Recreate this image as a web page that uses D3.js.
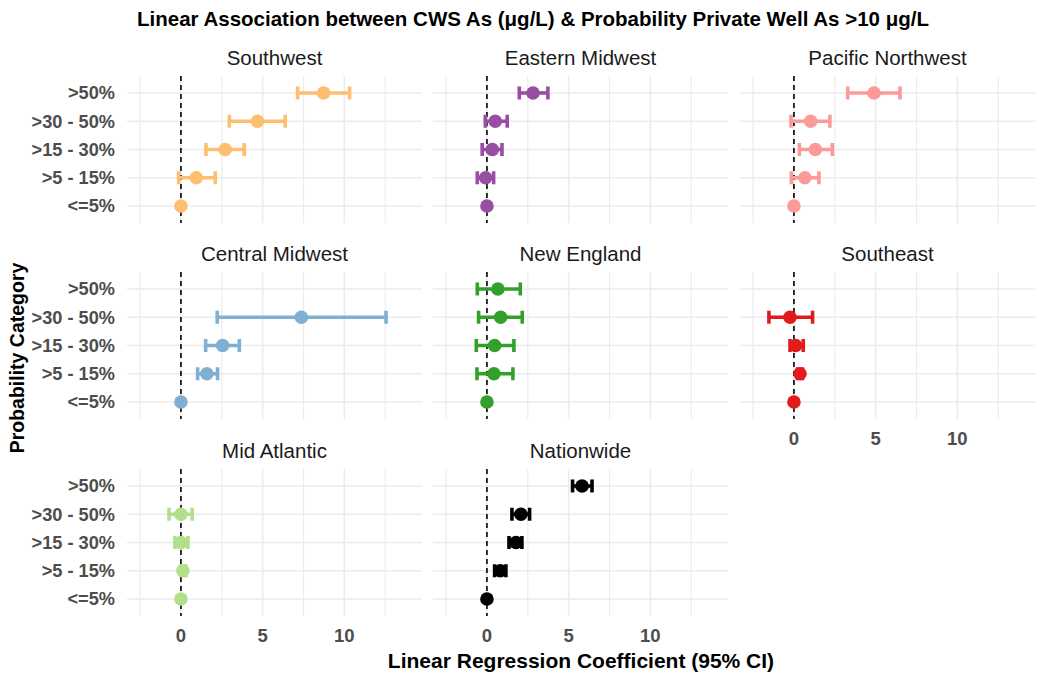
<!DOCTYPE html>
<html>
<head>
<meta charset="utf-8">
<script src="https://cdn.jsdelivr.net/npm/d3@7"></script>
<style>
  html, body { margin: 0; padding: 0; background: #fff; }
  svg { display: block; font-family: "Liberation Sans", Arial, sans-serif; }
</style>
</head>
<body>
<svg id="chart" width="1050" height="679"></svg>
<script>
// ---- Data ----
const categories = ["<=5%", ">5 - 15%", ">15 - 30%", ">30 - 50%", ">50%"];
const regions = ["Southwest", "Eastern Midwest", "Pacific Northwest",
                 "Central Midwest", "New England", "Southeast",
                 "Mid Atlantic", "Nationwide"];
const regionColors = ["#FDBF6F", "#984EA3", "#FB9A99",
                      "#7FB0D4", "#33A02C", "#E31A1C",
                      "#B2DF8A", "#000000"];
// estimate / lower / upper, in order of categories (<=5% ... >50%); null = no data
const estSouthwest = [0, 0.94, 2.71, 4.69, 8.73];
const lowSouthwest = [null, -0.14, 1.53, 2.96, 7.14];
const uppSouthwest = [null, 2.10, 3.87, 6.38, 10.32];

const estEastMid = [0, -0.08, 0.33, 0.51, 2.82];
const lowEastMid = [null, -0.59, -0.29, -0.10, 1.98];
const uppEastMid = [null, 0.41, 0.92, 1.24, 3.73];

const estPacNW = [0, 0.67, 1.31, 1.02, 4.90];
const lowPacNW = [null, -0.16, 0.33, -0.18, 3.29];
const uppPacNW = [null, 1.53, 2.35, 2.20, 6.49];

const estCentMid = [0, 1.59, 2.55, 7.37, null];
const lowCentMid = [null, 1.02, 1.51, 2.22, null];
const uppCentMid = [null, 2.24, 3.57, 12.55, null];

const estNewEng = [0, 0.43, 0.47, 0.84, 0.67];
const lowNewEng = [null, -0.61, -0.65, -0.51, -0.59];
const uppNewEng = [null, 1.59, 1.65, 2.16, 2.04];

const estSouthEast = [0, 0.37, 0.10, -0.24, null];
const lowSouthEast = [null, 0.22, -0.24, -1.53, null];
const uppSouthEast = [null, 0.52, 0.57, 1.14, null];

const estMidAtl = [0, 0.12, 0.00, 0.00, null];
const lowMidAtl = [null, -0.02, -0.37, -0.73, null];
const uppMidAtl = [null, 0.30, 0.43, 0.69, null];

const estNation = [0, 0.82, 1.78, 2.08, 5.82];
const lowNation = [null, 0.47, 1.35, 1.53, 5.24];
const uppNation = [null, 1.16, 2.14, 2.61, 6.43];

const xTicks = [0, 5, 10];
const xMinorTicks = [-2.5, 2.5, 7.5, 12.5];

const estimates = [estSouthwest, estEastMid, estPacNW, estCentMid, estNewEng, estSouthEast, estMidAtl, estNation];
const lowers = [lowSouthwest, lowEastMid, lowPacNW, lowCentMid, lowNewEng, lowSouthEast, lowMidAtl, lowNation];
const uppers = [uppSouthwest, uppEastMid, uppPacNW, uppCentMid, uppNewEng, uppSouthEast, uppMidAtl, uppNation];

// ---- Layout ----
const svg = d3.select("#chart");
const colX = [127, 433, 740];
const rowY = [76, 272, 469];
const pw = 295, ph = 147;

const x = d3.scaleLinear().domain([-3.3, 14.75]).range([0, pw]);
const y = d3.scalePoint().domain(categories).range([ph, 0]).padding(0.6);

const gridColor = "#EBEBEB";
const tickColor = "#4D4D4D";

// Title
svg.append("text")
  .attr("x", 533).attr("y", 26)
  .attr("text-anchor", "middle")
  .attr("font-size", 20.5).attr("font-weight", "bold").attr("fill", "#000")
  .text("Linear Association between CWS As (μg/L) & Probability Private Well As >10 μg/L");

regions.forEach((name, i) => {
  const col = i % 3, row = Math.floor(i / 3);
  const g = svg.append("g").attr("transform", `translate(${colX[col]},${rowY[row]})`);
  const color = regionColors[i];

  // minor grid
  g.selectAll(".minor").data(xMinorTicks).enter().append("line")
    .attr("x1", d => x(d)).attr("x2", d => x(d))
    .attr("y1", 0).attr("y2", ph)
    .attr("stroke", gridColor).attr("stroke-width", 1.1);
  // major grid
  g.selectAll(".majorx").data(xTicks).enter().append("line")
    .attr("x1", d => x(d)).attr("x2", d => x(d))
    .attr("y1", 0).attr("y2", ph)
    .attr("stroke", gridColor).attr("stroke-width", 1.6);
  g.selectAll(".majory").data(categories).enter().append("line")
    .attr("x1", 0).attr("x2", pw)
    .attr("y1", d => y(d)).attr("y2", d => y(d))
    .attr("stroke", gridColor).attr("stroke-width", 1.6);

  // strip label
  g.append("text")
    .attr("x", pw / 2).attr("y", -11)
    .attr("text-anchor", "middle")
    .attr("font-size", 20.5).attr("fill", "#1A1A1A")
    .text(name);

  // dashed zero line
  g.append("line")
    .attr("x1", x(0)).attr("x2", x(0))
    .attr("y1", 0).attr("y2", ph)
    .attr("stroke", "#000").attr("stroke-width", 1.6)
    .attr("stroke-dasharray", "5,4");

  const rows = categories.map((c, k) => ({
    cat: c, est: estimates[i][k], lo: lowers[i][k], hi: uppers[i][k]
  })).filter(d => d.est !== null);

  const capH = 6.5;
  const eb = rows.filter(d => d.lo !== null);
  g.selectAll(".ebh").data(eb).enter().append("line")
    .attr("x1", d => x(d.lo)).attr("x2", d => x(d.hi))
    .attr("y1", d => y(d.cat)).attr("y2", d => y(d.cat))
    .attr("stroke", color).attr("stroke-width", 3.6);
  g.selectAll(".ebl").data(eb).enter().append("line")
    .attr("x1", d => x(d.lo)).attr("x2", d => x(d.lo))
    .attr("y1", d => y(d.cat) - capH).attr("y2", d => y(d.cat) + capH)
    .attr("stroke", color).attr("stroke-width", 3.6);
  g.selectAll(".ebu").data(eb).enter().append("line")
    .attr("x1", d => x(d.hi)).attr("x2", d => x(d.hi))
    .attr("y1", d => y(d.cat) - capH).attr("y2", d => y(d.cat) + capH)
    .attr("stroke", color).attr("stroke-width", 3.6);
  g.selectAll(".pt").data(rows).enter().append("circle")
    .attr("cx", d => x(d.est)).attr("cy", d => y(d.cat))
    .attr("r", 6.8).attr("fill", color);

  // y axis labels on left column
  if (col === 0) {
    g.selectAll(".ylab").data(categories).enter().append("text")
      .attr("x", -12).attr("y", d => y(d)).attr("dy", "0.35em")
      .attr("text-anchor", "end")
      .attr("font-size", 18.2).attr("font-weight", "bold").attr("fill", tickColor)
      .text(d => d);
  }
  // x axis labels on bottom panel of each column
  const isBottom = (row === 2) || (col === 2 && row === 1);
  if (isBottom) {
    g.selectAll(".xlab").data(xTicks).enter().append("text")
      .attr("x", d => x(d)).attr("y", ph + 26)
      .attr("text-anchor", "middle")
      .attr("font-size", 18.5).attr("font-weight", "bold").attr("fill", tickColor)
      .text(d => d);
  }
});

// axis titles
svg.append("text")
  .attr("x", 581).attr("y", 668)
  .attr("text-anchor", "middle")
  .attr("font-size", 21).attr("font-weight", "bold").attr("fill", "#000")
  .text("Linear Regression Coefficient (95% CI)");
svg.append("text")
  .attr("transform", "translate(24,358) rotate(-90)")
  .attr("text-anchor", "middle")
  .attr("font-size", 19.5).attr("font-weight", "bold").attr("fill", "#000")
  .text("Probability Category");
</script>
</body>
</html>
